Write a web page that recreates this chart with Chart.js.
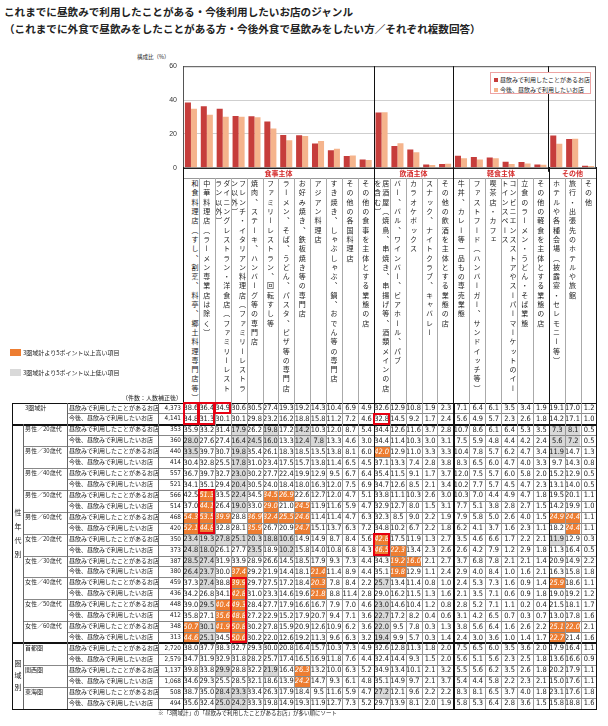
<!DOCTYPE html>
<html lang="ja">
<head>
<meta charset="utf-8">
<script src="https://cdn.jsdelivr.net/npm/chart.js@4.4.1/dist/chart.umd.min.js"></script>
<style>
body{margin:0;width:608px;height:726px;background:#fff;position:relative;overflow:hidden;font-family:'Noto Sans CJK JP',sans-serif;color:#222}
.a{position:absolute;white-space:nowrap;box-sizing:border-box}
.ttl{font-weight:bold;font-size:10.6px;left:4px}
.vt{position:absolute;writing-mode:vertical-rl;text-orientation:upright;font-size:7px;line-height:8px;letter-spacing:2.3px;color:#222;box-sizing:border-box}
.num{font-family:'Liberation Sans Narrow','DejaVu Sans Condensed','Liberation Sans',sans-serif;font-size:7.4px;text-align:right;padding-right:2px}
.jp{font-size:6px}
.ln{position:absolute}
</style>
</head>
<body>
<div class="a ttl" style="top:4px">これまでに昼飲みで利用したことがある・今後利用したいお店のジャンル</div>
<div class="a ttl" style="top:21px">（これまでに外食で昼飲みをしたことがある方・今後外食で昼飲みをしたい方／それぞれ複数回答）</div>
<div class="a" style="left:137px;top:53px;font-size:5.5px">構成比（%）</div>
<canvas id="grafico" width="458" height="122" style="position:absolute;left:140px;top:56px"></canvas>
<div id="capa"></div>
<script>
// categorias (orden: 3圏域計 の利用したことがあるお店 が多い順)
var grupos = ['食事主体', '飲酒主体', '軽食主体', 'その他'];
var tamGrupos = [12, 5, 6, 3];
var categorias = [
    '和食料理店（すし、割烹、料亭、郷土料理専門店等）',
    '中華料理店（ラーメン専業店は除く）',
    'ダイニングレストラン・洋食店（ファミリーレストラン以外）',
    'フレンチ・イタリアン料理店（ファミリーレストラン以外）',
    '焼肉、ステーキ、ハンバーグ等の専門店',
    'ファミリーレストラン、回転すし等',
    'ラーメン、そば、うどん、パスタ、ピザ等の専門店',
    'お好み焼き、鉄板焼き等の専門店',
    'アジアン料理店',
    'すき焼き、しゃぶしゃぶ、鍋、おでん等の専門店',
    'その他の各国料理店',
    'その他の食事を主体とする業態の店',
    '居酒屋（焼鳥、串焼き、串揚げ等、酒類メインの店を含む）',
    'バー、バル、ワインバー、ビアホール、パブ',
    'カラオケボックス',
    'スナック、ナイトクラブ、キャバレー',
    'その他の飲酒を主体とする業態の店',
    '牛丼、カレー等一品もの専売業態',
    'ファストフード（ハンバーガー、サンドイッチ等）',
    '喫茶店・カフェ',
    'コンビニエンスストアやスーパーマーケットのイートインスペース',
    '立食のラーメン・うどん・そば業態',
    'その他の軽食を主体とする業態の店',
    'ホテルや各種会場（披露宴・セレモニー等）',
    '旅行・出張先のホテルや旅館',
    'その他'
];

var serieUsado = '昼飲みで利用したことがあるお店';
var serieFuturo = '今後、昼飲みで利用したいお店';

var segmentos = ['3圏域計', '男性／20歳代', '男性／30歳代', '男性／40歳代', '男性／50歳代', '男性／60歳代',
    '女性／20歳代', '女性／30歳代', '女性／40歳代', '女性／50歳代', '女性／60歳代', '首都圏', '関西圏', '東海圏'];
var nUsado = ['4,373', '353', '440', '557', '566', '468', '350', '387', '459', '448', '348', '2,720', '1,137', '508'];
var nFuturo = ['4,141', '360', '414', '521', '514', '420', '373', '380', '436', '412', '313', '2,579', '1,068', '494'];

var usado = [
    [38.6, 36.4, 34.9, 30.6, 30.5, 27.4, 19.3, 19.2, 14.3, 10.4, 6.9, 4.9, 32.6, 12.9, 10.8, 1.9, 2.3, 7.1, 6.4, 6.1, 3.5, 3.4, 1.9, 19.1, 17.0, 1.2],
    [35.9, 33.2, 31.4, 17.9, 26.2, 19.8, 17.2, 14.2, 10.3, 12.0, 8.7, 5.4, 34.4, 12.6, 11.6, 3.7, 2.8, 10.7, 8.6, 6.1, 6.4, 5.3, 3.5, 7.3, 8.1, 0.5],
    [33.5, 39.7, 30.7, 19.8, 35.4, 26.1, 18.3, 18.5, 13.5, 13.8, 8.1, 6.0, 42.0, 12.9, 11.0, 3.3, 3.3, 10.4, 7.8, 5.7, 6.2, 4.7, 3.4, 11.9, 14.7, 1.3],
    [36.7, 39.7, 32.7, 23.0, 30.2, 27.7, 22.4, 19.9, 12.9, 9.5, 6.7, 6.4, 35.4, 11.5, 9.1, 1.7, 3.7, 12.0, 7.5, 5.7, 6.0, 5.8, 2.0, 15.2, 12.9, 0.5],
    [42.5, 51.3, 33.5, 22.4, 34.5, 34.5, 26.9, 22.6, 12.7, 12.0, 4.7, 5.1, 33.8, 11.1, 10.3, 2.6, 3.0, 10.3, 7.0, 4.4, 4.9, 4.7, 1.8, 19.5, 20.1, 1.1],
    [54.3, 53.5, 39.9, 28.8, 36.9, 32.4, 25.5, 24.6, 11.4, 11.4, 4.7, 6.3, 32.3, 8.5, 9.0, 2.2, 1.9, 7.9, 5.8, 5.0, 2.6, 4.0, 1.5, 24.9, 24.4, 1.1],
    [23.4, 19.3, 27.8, 25.1, 20.3, 18.8, 10.6, 14.9, 14.9, 8.7, 8.4, 5.6, 42.8, 17.5, 11.9, 1.3, 2.7, 3.5, 4.6, 6.6, 1.7, 2.2, 2.1, 11.9, 12.9, 0.3],
    [28.5, 27.4, 31.9, 33.9, 28.9, 26.6, 14.5, 18.5, 17.9, 9.3, 7.3, 4.4, 34.3, 19.2, 16.0, 2.1, 2.7, 3.7, 6.8, 7.8, 2.1, 2.1, 1.4, 20.9, 14.9, 2.2],
    [37.3, 27.4, 38.8, 39.9, 29.7, 27.5, 17.2, 18.4, 20.3, 7.8, 8.4, 2.2, 25.7, 13.4, 11.4, 0.8, 1.0, 2.4, 5.3, 7.3, 1.6, 0.9, 1.4, 25.9, 18.6, 1.1],
    [39.0, 29.5, 40.4, 49.3, 28.4, 27.7, 17.9, 16.6, 16.7, 7.9, 7.0, 4.6, 23.0, 14.6, 10.4, 1.2, 0.8, 2.8, 5.2, 7.1, 1.1, 0.2, 0.4, 21.5, 18.1, 1.7],
    [50.7, 30.1, 41.9, 50.8, 30.2, 27.8, 15.9, 20.9, 12.6, 10.9, 6.2, 3.6, 22.0, 9.5, 7.8, 0.3, 1.3, 3.8, 5.6, 6.4, 1.6, 2.6, 2.2, 25.1, 22.0, 2.1],
    [38.0, 37.7, 38.3, 32.7, 29.3, 30.0, 20.8, 16.4, 15.7, 10.3, 7.3, 4.9, 32.6, 12.8, 11.3, 1.8, 2.0, 7.5, 6.5, 6.0, 3.5, 3.6, 2.0, 17.9, 16.4, 1.1],
    [39.8, 33.8, 29.9, 28.8, 32.2, 21.9, 16.4, 26.3, 13.2, 10.0, 6.3, 5.2, 34.9, 13.4, 10.1, 2.1, 3.2, 5.5, 5.6, 6.2, 3.5, 2.6, 1.8, 20.2, 17.9, 1.1],
    [38.7, 35.0, 28.4, 23.3, 33.4, 26.3, 17.9, 18.4, 9.5, 11.6, 5.9, 4.7, 27.2, 12.1, 9.6, 2.2, 2.2, 8.3, 8.1, 6.5, 3.7, 4.0, 1.8, 23.1, 17.6, 1.8]
];

var futuro = [
    [34.8, 31.3, 30.1, 30.1, 29.8, 23.2, 16.2, 18.8, 15.8, 11.2, 7.2, 4.6, 32.8, 14.5, 9.2, 1.7, 2.4, 5.6, 4.9, 5.7, 2.3, 2.6, 1.8, 14.2, 17.1, 1.0],
    [28.0, 27.6, 27.4, 16.4, 24.5, 16.0, 13.3, 12.4, 7.8, 13.3, 4.6, 3.0, 34.4, 11.4, 10.3, 3.0, 3.1, 7.5, 5.9, 4.8, 4.4, 4.2, 2.4, 5.6, 7.2, 0.5],
    [30.4, 32.8, 25.5, 17.8, 31.0, 23.4, 17.5, 15.7, 13.8, 11.4, 6.5, 4.5, 37.1, 13.3, 7.4, 2.8, 3.8, 8.3, 6.5, 6.0, 4.7, 4.0, 3.3, 9.7, 14.3, 0.8],
    [34.1, 35.1, 29.4, 20.4, 30.5, 24.0, 18.4, 18.0, 16.3, 12.0, 7.5, 6.9, 34.7, 12.6, 8.5, 2.1, 3.4, 10.2, 7.7, 5.7, 4.5, 4.7, 2.3, 13.1, 14.0, 0.5],
    [37.0, 44.1, 26.4, 19.0, 33.0, 29.0, 21.0, 24.5, 11.9, 11.6, 5.9, 4.7, 32.9, 12.7, 8.0, 1.5, 3.1, 7.7, 5.1, 3.8, 2.8, 2.7, 1.5, 14.2, 19.9, 1.0],
    [52.1, 44.8, 32.8, 28.1, 35.9, 26.7, 20.9, 24.7, 15.1, 13.7, 6.3, 7.2, 34.8, 10.2, 6.7, 2.2, 1.8, 6.2, 4.1, 3.7, 1.6, 2.3, 1.1, 18.2, 24.4, 1.1],
    [24.8, 18.0, 26.1, 27.7, 23.5, 18.9, 10.2, 15.8, 14.0, 10.8, 6.8, 4.3, 46.5, 22.3, 13.4, 2.3, 2.6, 2.6, 4.2, 7.9, 1.2, 2.9, 1.8, 11.3, 16.4, 0.5],
    [26.4, 23.7, 30.0, 37.4, 29.2, 21.9, 14.4, 18.1, 21.4, 11.4, 8.9, 4.4, 35.1, 19.8, 12.9, 1.1, 2.4, 2.9, 4.0, 8.4, 1.0, 1.6, 2.1, 16.3, 15.8, 1.8],
    [34.2, 26.8, 34.1, 42.8, 31.0, 23.3, 14.6, 19.6, 21.8, 8.8, 11.4, 2.8, 29.0, 16.2, 11.5, 1.3, 1.6, 2.1, 3.5, 7.1, 0.6, 0.9, 1.8, 19.0, 19.2, 1.2],
    [35.8, 27.1, 35.6, 48.8, 27.2, 22.9, 15.2, 17.9, 20.7, 9.4, 7.1, 3.6, 22.7, 17.2, 8.2, 0.4, 0.6, 3.1, 4.2, 6.5, 0.7, 0.3, 0.7, 13.0, 17.8, 1.6],
    [44.6, 25.1, 34.5, 50.6, 30.2, 22.0, 12.6, 19.2, 11.3, 9.6, 6.3, 3.2, 19.4, 9.9, 5.7, 0.3, 1.4, 2.4, 3.0, 3.6, 1.0, 1.4, 1.7, 22.7, 21.4, 1.6],
    [34.7, 31.9, 32.9, 31.8, 28.2, 25.7, 17.4, 16.5, 16.9, 11.8, 7.6, 4.4, 32.4, 14.4, 9.3, 1.5, 2.0, 5.6, 5.1, 5.6, 2.3, 2.5, 1.8, 13.6, 16.6, 0.9],
    [34.6, 29.3, 25.5, 28.5, 32.1, 18.6, 13.9, 24.2, 14.7, 9.3, 6.1, 4.8, 35.1, 14.9, 9.7, 2.1, 3.7, 5.4, 4.4, 5.8, 2.2, 2.3, 2.1, 15.0, 17.6, 1.1],
    [35.6, 32.4, 25.0, 24.2, 33.3, 19.8, 14.9, 19.3, 11.9, 12.7, 7.3, 5.2, 29.7, 13.9, 8.1, 2.0, 1.9, 5.8, 5.3, 6.4, 2.8, 3.6, 1.5, 15.8, 18.8, 1.6]
];

// celdas marcadas con recuadro rojo: [fila inicial, fila final, columna]
var recuadros = [[0, 1, 0], [0, 1, 1], [0, 0, 2], [1, 1, 12], [8, 11, 1], [12, 13, 12], [16, 21, 3]];

var X0 = 183, CW = 15.9, TOP = 402.5, RH = 10.93;
var capa = document.getElementById('capa');

function caja(x, y, w, h, cls, txt, css) {
    var d = document.createElement('div');
    d.className = cls;
    d.style.cssText = 'left:' + x + 'px;top:' + y + 'px;width:' + w + 'px;height:' + h + 'px;' + (css || '');
    if (txt != null) d.textContent = txt;
    capa.appendChild(d);
    return d;
}
function lh(x1, x2, y, c, t) { caja(x1, y, x2 - x1, t || 1, 'ln', null, 'background:' + c); }
function lv(x, y1, y2, c, t) { caja(x, y1, t || 1, y2 - y1, 'ln', null, 'background:' + c); }
function cx(i) { return X0 + i * CW; }

// leyenda del grafico
var ley = caja(490, 72, 101, 22, 'a', null, 'border:1px solid #eda3a3;background:#fff');
ley.innerHTML = '<div style="position:absolute;left:3px;top:3px;font-size:6px;line-height:7px"><span style="display:inline-block;width:4px;height:4px;background:#c63d3b;margin-right:2px"></span>' + serieUsado + '</div>' +
    '<div style="position:absolute;left:3px;top:13px;font-size:6px;line-height:7px"><span style="display:inline-block;width:4px;height:4px;background:#f5b48c;margin-right:2px"></span>' + serieFuturo + '</div>';

// cabecera de grupos y etiquetas verticales
var pos = 0;
for (var g = 0; g < grupos.length; g++) {
    caja(cx(pos), 168, tamGrupos[g] * CW, 10, 'a', grupos[g],
        'text-align:center;color:#d42b2b;font-weight:bold;font-size:7px;line-height:10px');
    pos += tamGrupos[g];
}
for (var i = 0; i < categorias.length; i++) {
    var largo = categorias[i].length > 23;
    caja(cx(i), 180, CW, 220, 'vt', categorias[i], largo ? 'padding-right:0' : 'padding-right:4px');
}
lh(X0, cx(26), 178, '#999');
var limites = [0, 12, 17, 23, 26];
for (var i = 0; i <= 26; i++) {
    if (limites.indexOf(i) >= 0) lv(cx(i), 167, TOP, '#111');
    else lv(cx(i), 178, TOP, '#aaa');
}

// notas
caja(10, 349, 11, 7, 'a', null, 'background:#ed7d31');
caja(23, 348, 120, 9, 'a jp', '3圏域計より5ポイント以上高い項目', 'line-height:9px');
caja(10, 369, 11, 7, 'a', null, 'background:#d9d9d9');
caja(23, 368, 120, 9, 'a jp', '3圏域計より5ポイント以上低い項目', 'line-height:9px');
caja(100, 393, 82, 9, 'a jp', '（件数：人数補正後）', 'text-align:right;line-height:9px');

// tabla
for (var s = 0; s < segmentos.length; s++) {
    for (var k = 0; k < 2; k++) {
        var r = s * 2 + k;
        var y = TOP + r * RH;
        var fila = k == 0 ? usado[s] : futuro[s];
        var base = k == 0 ? usado[0] : futuro[0];
        caja(69, y, 89, RH, 'a jp', k == 0 ? serieUsado : serieFuturo, 'line-height:' + RH + 'px');
        caja(158, y, 25, RH, 'a num', k == 0 ? nUsado[s] : nFuturo[s], 'line-height:' + RH + 'px;font-size:6.4px');
        for (var c = 0; c < fila.length; c++) {
            var css = 'line-height:' + RH + 'px;';
            if (s > 0 && fila[c] - base[c] >= 5) css += 'background:#ed7d31;color:#fff;font-style:italic;';
            else if (s > 0 && base[c] - fila[c] >= 5) css += 'background:#d9d9d9;';
            caja(cx(c) + 0.5, y + 0.5, CW - 0.5, RH - 0.5, 'a num', fila[c].toFixed(1), css);
        }
    }
    if (s == 0) caja(25, TOP, 40, RH, 'a jp', segmentos[s], 'line-height:' + RH + 'px');
    else caja(25, TOP + s * 2 * RH, 42, RH, 'a jp', segmentos[s], 'line-height:' + RH + 'px');
}
caja(12, TOP + 2 * RH, 11, 20 * RH, 'vt', '性年代別', 'font-size:7px;letter-spacing:7px;line-height:11px;display:flex;align-items:center;justify-content:center;padding-top:7px');
caja(12, TOP + 22 * RH, 11, 6 * RH, 'vt', '圏域別', 'font-size:7px;letter-spacing:5px;line-height:11px;display:flex;align-items:center;justify-content:center;padding-top:5px');

var XR = cx(26);
for (var r = 1; r < 28; r++) {
    var y = TOP + r * RH;
    if (r == 2 || r == 22) lh(12, XR, y - 0.5, '#111', 2);
    else if (r % 2 == 1) lh(67, XR, y, '#888');
    else lh(23, XR, y, '#888');
}
lh(12, XR + 1, TOP, '#111');
lh(12, XR + 1, TOP + 28 * RH, '#111', 1.5);
lv(12, TOP, TOP + 28 * RH, '#111');
lv(23, TOP + 2 * RH, TOP + 28 * RH, '#666');
lv(67, TOP, TOP + 28 * RH, '#666');
lv(158, TOP, TOP + 28 * RH, '#666');
for (var i = 0; i <= 26; i++) {
    if (limites.indexOf(i) >= 0) lv(cx(i), TOP, TOP + 28 * RH, '#111', i == 0 || i == 26 ? 1 : 1.5);
    else lv(cx(i), TOP, TOP + 28 * RH, '#999');
}
for (var b = 0; b < recuadros.length; b++) {
    var q = recuadros[b];
    caja(cx(q[2]) - 0.5, TOP + q[0] * RH - 0.5, CW + 1, (q[1] - q[0] + 1) * RH + 1, 'a', null, 'border:2px solid #e60012');
}
caja(158, 709, 300, 9, 'a', '※「3圏域計」の「昼飲みで利用したことがあるお店」が多い順にソート', 'font-size:5.5px;line-height:9px');

// grafico de barras
var separadores = {
    id: 'separadores',
    afterDatasetsDraw: function (chart) {
        var ctx = chart.ctx, a = chart.chartArea, xs = chart.scales.x;
        ctx.save();
        ctx.strokeStyle = '#555';
        ctx.lineWidth = 1;
        ctx.strokeRect(a.left + 0.5, a.top + 0.5, a.right - a.left - 1, a.bottom - a.top);
        ctx.strokeStyle = '#111';
        [12, 17, 23].forEach(function (b) {
            var x = Math.round((xs.getPixelForValue(b - 1) + xs.getPixelForValue(b)) / 2) + 0.5;
            ctx.beginPath();
            ctx.moveTo(x, a.top);
            ctx.lineTo(x, a.bottom + 4);
            ctx.stroke();
        });
        ctx.beginPath();
        ctx.moveTo(a.left, a.bottom + 0.5);
        ctx.lineTo(a.right, a.bottom + 0.5);
        ctx.stroke();
        ctx.restore();
    }
};

var grafico = new Chart(document.getElementById('grafico').getContext('2d'), {
    type: 'bar',
    data: {
        labels: categorias,
        datasets: [{
            label: serieUsado,
            data: usado[0],
            backgroundColor: '#c63d3b'
        }, {
            label: serieFuturo,
            data: futuro[0],
            backgroundColor: '#f5b48c'
        }]
    },
    options: {
        responsive: false,
        animation: false,
        layout: { padding: { top: 6, right: 2, bottom: 0, left: 0 } },
        datasets: { bar: { categoryPercentage: 0.76, barPercentage: 1.0 } },
        plugins: { legend: { display: false }, tooltip: { enabled: false } },
        scales: {
            x: { display: false },
            y: {
                min: 0, max: 60,
                ticks: { stepSize: 20, font: { size: 7 }, color: '#333', padding: 6 },
                grid: { color: '#cfcfcf', drawTicks: false },
                border: { color: '#111' },
                afterFit: function (s) { s.width = 43; }
            }
        }
    },
    plugins: [separadores]
});
</script>
</body>
</html>
